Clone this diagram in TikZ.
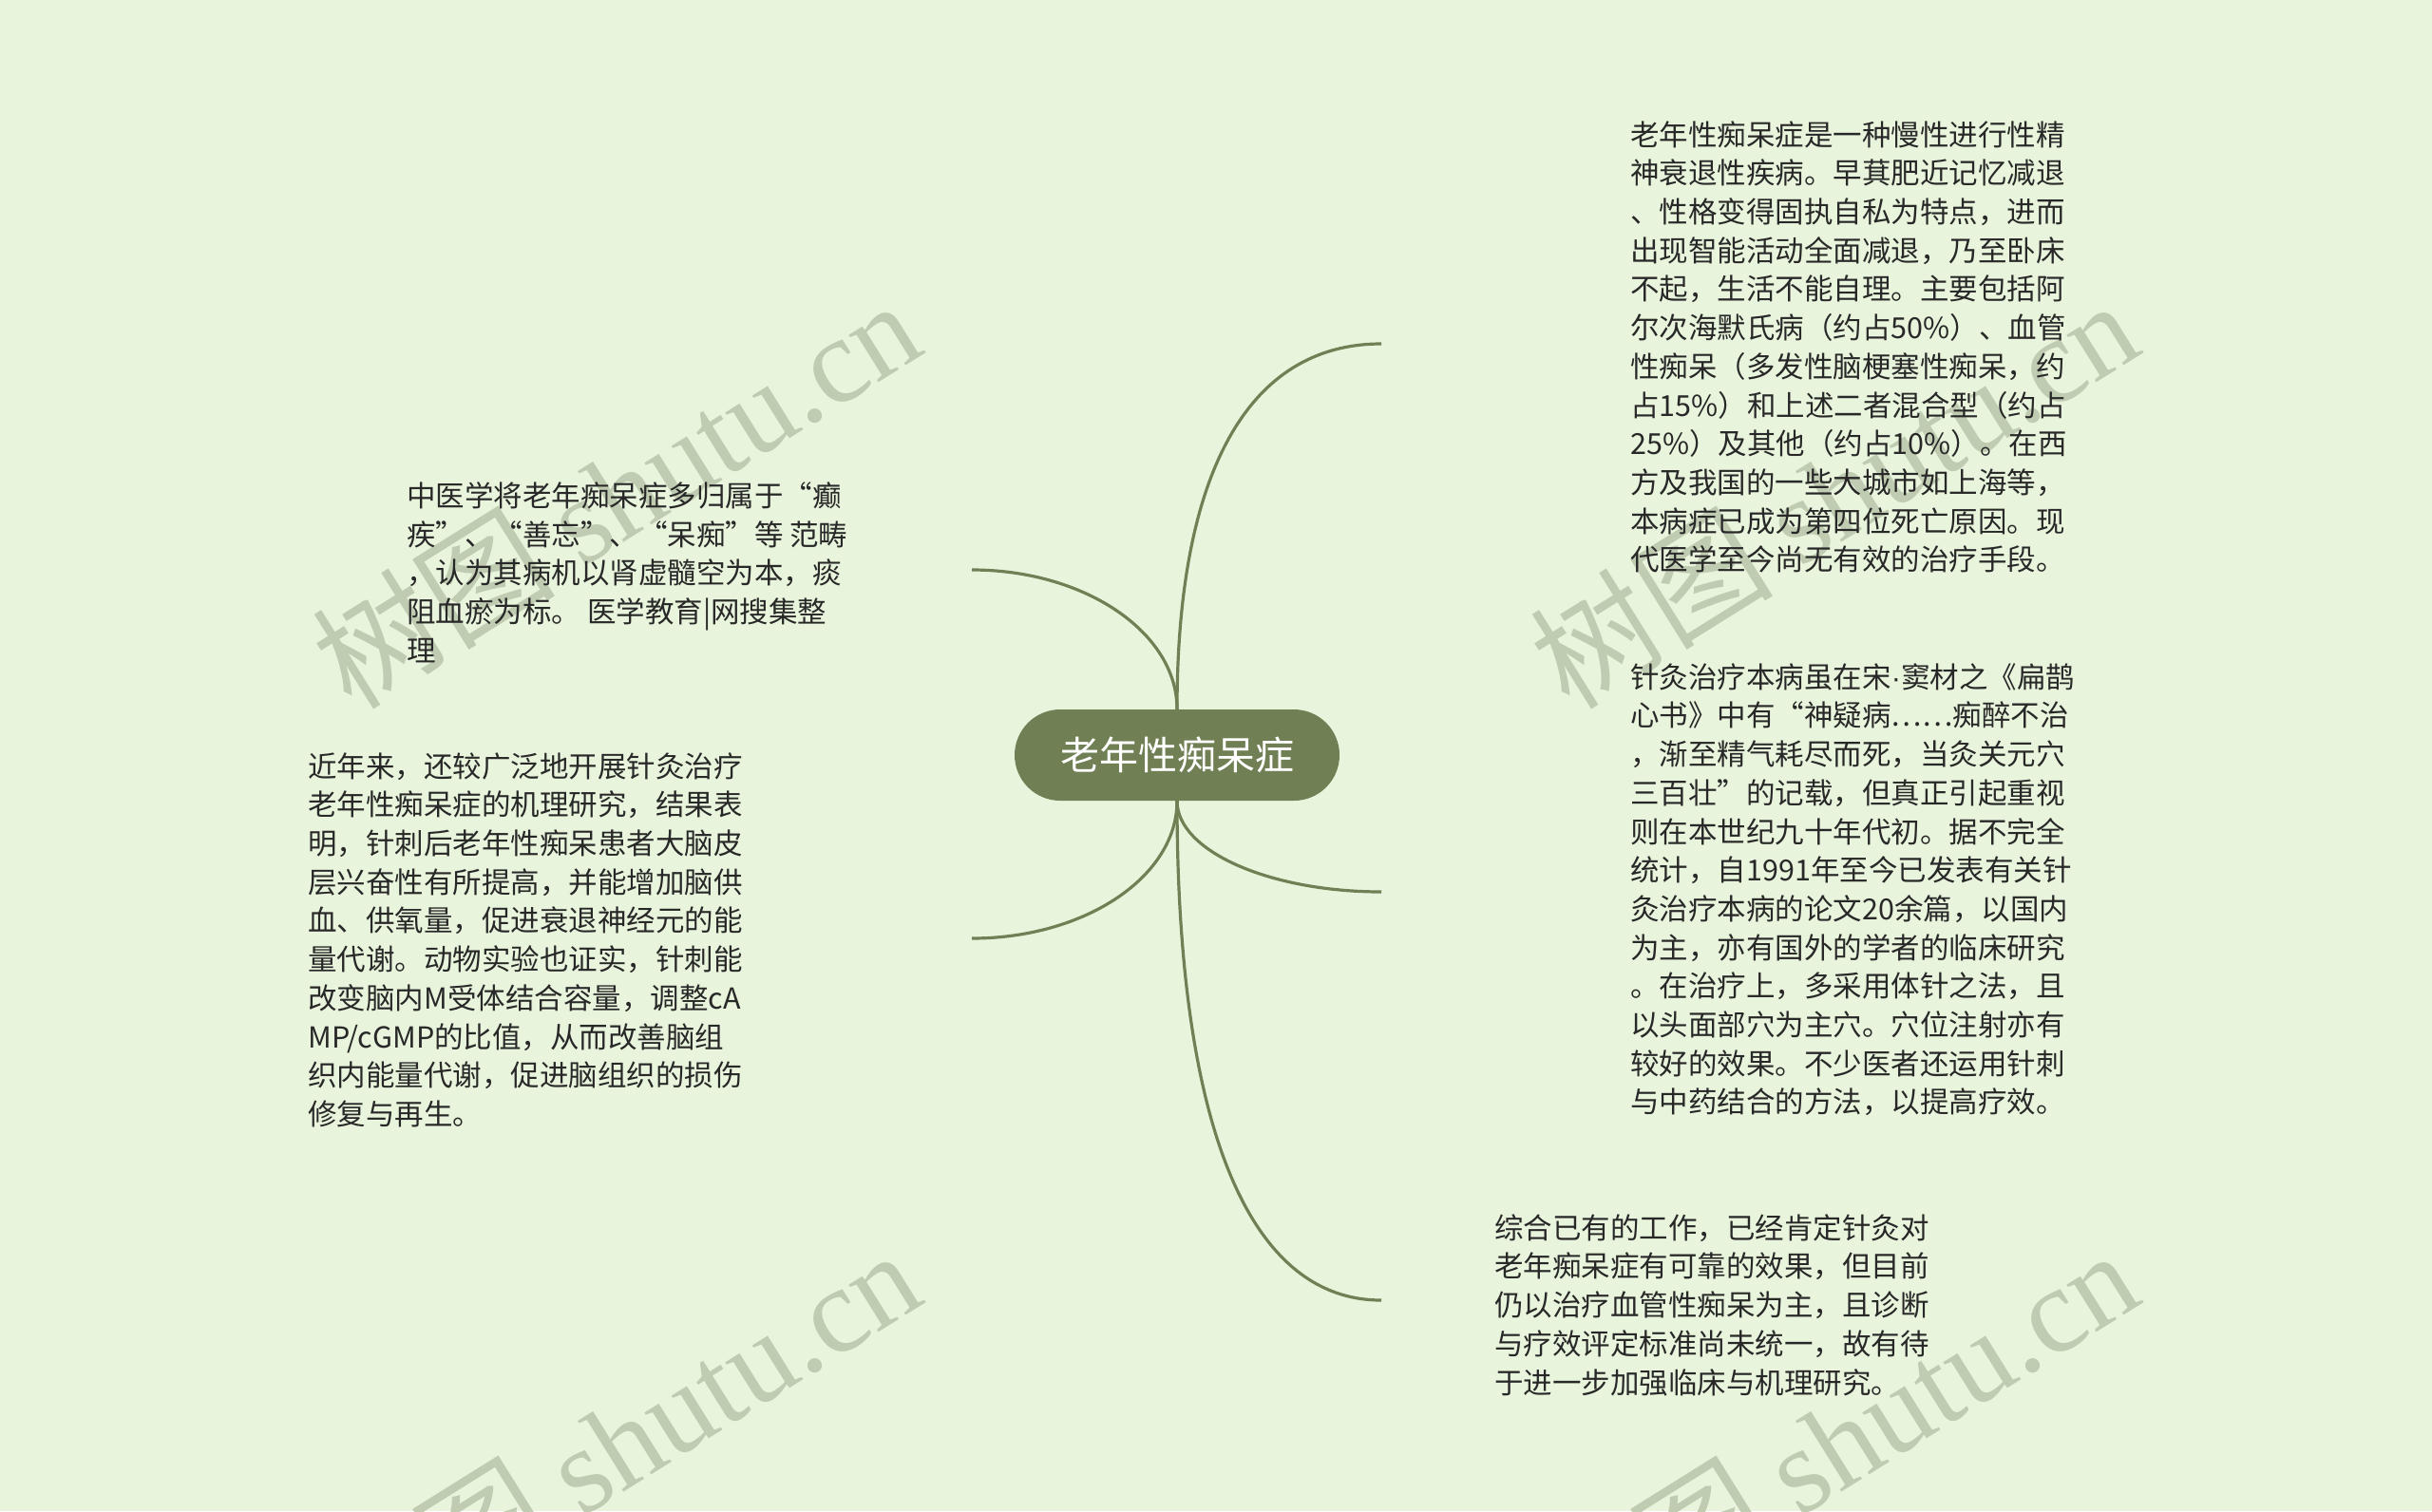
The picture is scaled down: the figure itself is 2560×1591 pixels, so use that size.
\documentclass[tikz,border=0pt]{standalone}
\usepackage{fontspec}
\setmainfont{Noto Sans CJK SC}
\newfontfamily\wmlatin{Liberation Serif}
\newfontfamily\latinsans{Liberation Sans}
\usetikzlibrary{backgrounds}

\definecolor{bgcol}{RGB}{232,245,220}
\definecolor{olive}{RGB}{113,128,84}
\definecolor{inkcol}{RGB}{40,40,40}
\definecolor{wmcol}{RGB}{192,204,178}

\begin{document}
\begin{tikzpicture}[x=0.5pt,y=-0.5pt,
  root/.style={fill=olive,text=white,rounded corners=24pt,minimum width=171pt,
    minimum height=48pt,inner sep=0pt,font=\fontsize{20.5}{24}\selectfont},
  leaf/.style={anchor=north west,align=left,inner sep=0pt,text=inkcol,
    font=\fontsize{15.25}{20.35}\selectfont},
  branch/.style={draw=olive,line width=1.6pt},
  wmark/.style={text=wmcol,rotate=32,inner sep=0pt,font=\fontsize{64}{64}\selectfont}]

% Canvas
\useasboundingbox (0,0) rectangle (2560,1591);
\begin{pgfonlayer}{background}
\fill[bgcol] (0,0) rectangle (2560,1591);
\end{pgfonlayer}

% Watermarks
\foreach \wx/\wy/\wn in {648/519/a,1930/519/b,648/1519/c,1930/1519/d}
  \node[wmark] (wm\wn) at (\wx,\wy) {树图 {\wmlatin shutu.cn}};

% Root
\node[root] (root) at (1239,795) {老年性痴呆症};

% Leaves
\node[leaf] (intro) at (1716,127) {老年性痴呆症是一种慢性进行性精\\
神衰退性疾病。早萁肥近记忆减退\\
、性格变得固执自私为特点，进而\\
出现智能活动全面减退，乃至卧床\\
不起，生活不能自理。主要包括阿\\
尔次海默氏病（约占50\%）、血管\\
性痴呆（多发性脑梗塞性痴呆，约\\
占15\%）和上述二者混合型（约占\\
25\%）及其他（约占10\%）。在西\\
方及我国的一些大城市如上海等，\\
本病症已成为第四位死亡原因。现\\
代医学至今尚无有效的治疗手段。};

\node[leaf] (history) at (1716,698) {针灸治疗本病虽在宋{\latinsans ·}窦材之《扁鹊\\
心书》中有“神疑病……痴醉不治\\
，渐至精气耗尽而死，当灸关元穴\\
三百壮”的记载，但真正引起重视\\
则在本世纪九十年代初。据不完全\\
统计，自1991年至今已发表有关针\\
灸治疗本病的论文20余篇，以国内\\
为主，亦有国外的学者的临床研究\\
。在治疗上，多采用体针之法，且\\
以头面部穴为主穴。穴位注射亦有\\
较好的效果。不少医者还运用针刺\\
与中药结合的方法，以提高疗效。};

\node[leaf] (summary) at (1573,1278) {综合已有的工作，已经肯定针灸对\\
老年痴呆症有可靠的效果，但目前\\
仍以治疗血管性痴呆为主，且诊断\\
与疗效评定标准尚未统一，故有待\\
于进一步加强临床与机理研究。};

\node[leaf] (tcm) at (428,507) {中医学将老年痴呆症多归属于“癫\\
\makebox[232pt][s]{疾”\hfill、\hfill“善忘”\hfill、\hfill“呆痴”等 范畴}\\
，认为其病机以肾虚髓空为本，痰\\
阻血瘀为标。 医学教育|网搜集整\\
理};

\node[leaf] (study) at (324,792) {近年来，还较广泛地开展针灸治疗\\
老年性痴呆症的机理研究，结果表\\
明，针刺后老年性痴呆患者大脑皮\\
层兴奋性有所提高，并能增加脑供\\
血、供氧量，促进衰退神经元的能\\
量代谢。动物实验也证实，针刺能\\
改变脑内M受体结合容量，调整cA\\
MP/cGMP的比值，从而改善脑组\\
织内能量代谢，促进脑组织的损伤\\
修复与再生。};

% Branch ends
\coordinate (e1) at (1454,362);
\coordinate (e2) at (1023,600);
\coordinate (e3) at (1454,939);
\coordinate (e4) at (1023,988);
\coordinate (e5) at (1454,1369);

% Branches
\begin{pgfonlayer}{background}
\draw[branch] (root.center) -- (root.north) .. controls (1239,497) and (1314,362) .. (e1);
\draw[branch] (root.center) -- (root.north) .. controls (1239,666) and (1142,600) .. (e2);
\draw[branch] (root.center) -- (root.south) .. controls (1239,896) and (1336,939) .. (e3);
\draw[branch] (root.center) -- (root.south) .. controls (1239,923) and (1142,988) .. (e4);
\draw[branch] (root.center) -- (root.south) .. controls (1239,1185) and (1314,1369) .. (e5);
\end{pgfonlayer}
\end{tikzpicture}
\end{document}
